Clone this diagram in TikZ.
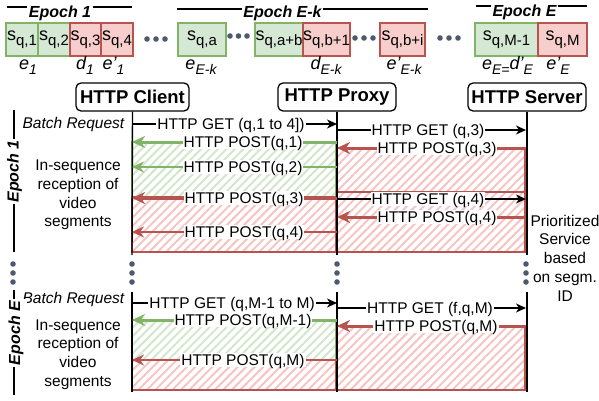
\documentclass[tikz,border=0pt]{standalone}
\usepackage{fontspec}
\setmainfont{Liberation Sans}
\usetikzlibrary{arrows.meta,patterns.meta}
\definecolor{gfill}{HTML}{D5E8D4}
\definecolor{gline}{HTML}{82B366}
\definecolor{rfill}{HTML}{F8CECC}
\definecolor{rline}{HTML}{B85450}
\definecolor{ghatch}{HTML}{D2E7CB}
\definecolor{rhatch}{HTML}{F6C4C2}
\definecolor{dotc}{HTML}{4D5A6E}
\newcommand\sg[1]{{\fontsize{18}{18}\selectfont s}\raisebox{-5pt}{\fontsize{15}{15}\selectfont #1}}
\newcommand\lb[2]{{\fontsize{18}{18}\selectfont\itshape #1}\raisebox{-5pt}{\fontsize{14}{14}\selectfont\itshape #2}}
\newcommand\pr{{\char"0027}}
\newcommand\msgline[7]{%
  \coordinate (#1s) at (#2,#4);
  \coordinate (#1e) at (#3,#4);
  \draw[#5] (#1s) -- (#1e);
  \node[lab] (#1l) at (#6,#4) {#7};
}
\begin{document}
\begin{tikzpicture}[x=1pt,y=-1pt,
  every node/.style={font=\fontsize{15.5}{18.7}\selectfont, inner sep=0pt},
  lab/.style={fill=white, inner sep=1pt, text height=11.2pt, text depth=0.5pt},
  segg/.style={draw=gline, fill=gfill, line width=1.3pt, minimum height=33pt, inner sep=0pt},
  segr/.style={draw=rline, fill=rfill, line width=1.3pt, minimum height=33pt, inner sep=0pt},
  eplab/.style={font=\fontsize{16}{16}\selectfont\bfseries\itshape, fill=white, inner sep=1.5pt},
  epline/.style={line width=1.3pt},
  actor/.style={draw, line width=1.3pt, rounded corners=5pt, minimum width=#1, minimum height=28pt,
     font=\fontsize{18.5}{18.5}\selectfont\bfseries},
  life/.style={line width=1.4pt},
  ghat/.style={pattern={Lines[angle=45,distance=6pt,line width=2pt]}, pattern color=ghatch, draw=gline, line width=1.3pt},
  rhat/.style={pattern={Lines[angle=45,distance=6pt,line width=2pt]}, pattern color=rhatch, draw=rline, line width=1.8pt},
  getarr/.style={line width=1.3pt, -{Stealth[length=10pt,width=9pt,inset=3pt]}},
  gthick/.style={draw=gline, line width=3pt, -{Stealth[length=13pt,width=12pt,inset=4pt]}},
  gthin/.style={draw=gline, line width=1.8pt, -{Stealth[length=12pt,width=11pt,inset=4pt]}},
  rthick/.style={draw=rline, line width=3pt, -{Stealth[length=13pt,width=12pt,inset=4pt]}},
  rthin/.style={draw=rline, line width=2pt, -{Stealth[length=12pt,width=11pt,inset=4pt]}},
  txt/.style={align=center},
  dot/.style={fill=dotc}
]
\useasboundingbox (0,0) rectangle (599,401);

% ---- top strip: epochs
\draw[epline] (7,7) -- (132,7);
\node[eplab] (ep1) at (60,13) {Epoch 1};
\draw[epline] (177,9) -- (428,9);
\node[eplab] (epk) at (282.5,13) {Epoch E-k};
\draw[epline] (476,6) -- (587,6);
\node[eplab] (epE) at (524.5,12.5) {Epoch E};

% segments
\node[segg, minimum width=32pt] (s1) at (22,39.5) {\sg{q,1}};
\node[segg, minimum width=32pt] (s2) at (54,39.5) {\sg{q,2}};
\node[segr, minimum width=31pt] (s3) at (85.5,39.5) {\sg{q,3}};
\node[segr, minimum width=32pt] (s4) at (117,39.5) {\sg{q,4}};
\node[segg, minimum width=48pt] (sa) at (202,39.5) {\sg{q,a}};
\node[segg, minimum width=48pt] (sab) at (279,39.5) {\sg{q,a+b}};
\node[segr, minimum width=47pt] (sb1) at (326.5,39.5) {\sg{q,b+1}};
\node[segr, minimum width=45pt] (sbi) at (402.5,39.5) {\sg{q,b+i}};
\node[segg, minimum width=63pt] (sM1) at (506.5,39.5) {\sg{q,M-1}};
\node[segr, minimum width=49pt] (sM) at (562.5,39.5) {\sg{q,M}};

% horizontal dots
\foreach \x in {147,156,165} \fill[dot] (\x,39) circle (2.8pt);
\foreach \x in {230,238.5,247} \fill[dot] (\x,36) circle (2.8pt);
\foreach \x in {355,364,373} \fill[dot] (\x,38) circle (2.8pt);
\foreach \x in {440,449,458} \fill[dot] (\x,38) circle (2.8pt);

% labels under segments
\node[anchor=base] (l1) at (28,70) {\lb{e}{1}};
\node[anchor=base] (l2) at (85,70) {\lb{d}{1}};
\node[anchor=base] (l3) at (113.5,70) {\lb{e\pr}{1}};
\node[anchor=base] (l4) at (201,70) {\lb{e}{E-k}};
\node[anchor=base] (l5) at (326,70) {\lb{d}{E-k}};
\node[anchor=base] (l6) at (404,70) {\lb{e\pr}{E-k}};
\node[anchor=base] (l7) at (507.5,70) {\lb{e}{E=}\lb{d\pr}{E}};
\node[anchor=base] (l8) at (558,70) {\lb{e\pr}{E}};

% actors
\node[actor=113pt] (client) at (132.5,97) {HTTP Client};
\node[actor=118pt] (proxy) at (337,97) {HTTP Proxy};
\node[actor=118pt] (server) at (527,97) {HTTP Server};

% ---- hatched regions
\draw[ghat] (132,142) rectangle (336,197);
\draw[rhat] (132,197) rectangle (336,252);
\draw[rhat] (337,148) rectangle (525,252);
\draw[rline, line width=1.8pt] (337,192) -- (525,192);
\draw[ghat] (132,320) rectangle (336,360);
\draw[rhat] (132,360) rectangle (336,390);
\draw[rhat] (337,326) rectangle (525,390);

% ---- lifelines
\coordinate (ce1) at (132,255); \coordinate (pe1) at (337,255); \coordinate (se1) at (527,255);
\coordinate (cs2) at (132,292); \coordinate (ps2) at (337,292); \coordinate (ss2) at (527,292);
\coordinate (ce2) at (132,392); \coordinate (pe2) at (337,392); \coordinate (se2) at (527,392);
\draw[life] (client.south) -- (ce1);
\draw[life] (proxy.south) -- (pe1);
\draw[life] (server.south) -- (se1);
\draw[life] (cs2) -- (ce2);
\draw[life] (ps2) -- (pe2);
\draw[life] (ss2) -- (se2);

% vertical dots
\foreach \x in {13,132,337,526} \foreach \y in {264,273,282} \fill[dot] (\x,\y) circle (2.8pt);

% ---- epoch 1 messages
\msgline{a}{132}{337}{124}{getarr}{231}{HTTP GET (q,1 to 4])}
\msgline{b}{337}{526}{130}{getarr}{428}{HTTP GET (q,3)}
\msgline{c}{524}{337}{148}{rthick}{437}{HTTP POST(q,3)}
\msgline{d}{337}{132}{142}{gthick}{243}{HTTP POST(q,1)}
\msgline{e}{337}{132}{167}{gthin}{243}{HTTP POST(q,2)}
\msgline{f}{337}{132}{198}{rthick}{244}{HTTP POST(q,3)}
\msgline{g}{337}{526}{199}{getarr}{428}{HTTP GET (q,4)}
\msgline{h}{524}{337}{217}{rthick}{437}{HTTP POST(q,4)}
\msgline{i}{337}{132}{232}{rthin}{244}{HTTP POST(q,4)}

% ---- epoch E messages
\msgline{j}{132}{337}{303}{getarr}{232}{HTTP GET (q,M-1 to M)}
\msgline{k}{337}{526}{308}{getarr}{430}{HTTP GET (f,q,M)}
\msgline{m}{524}{337}{326}{rthick}{436}{HTTP POST(q,M)}
\msgline{n}{337}{132}{320}{gthick}{243}{HTTP POST(q,M-1)}
\msgline{o}{337}{132}{360}{rthin}{243}{HTTP POST(q,M)}

% ---- side texts
\node[anchor=east, font=\fontsize{15.5}{18.7}\selectfont\itshape] (br1) at (124.5,124) {Batch Request};
\node[anchor=east, font=\fontsize{15.5}{18.7}\selectfont\itshape] (br2) at (124.5,299) {Batch Request};
\node[txt] (ins1) at (78,195) {In-sequence\\reception of\\video\\segments};
\node[txt] (ins2) at (78,354.5) {In-sequence\\reception of\\video\\segments};
\node[txt] (prio) at (565,258) {Prioritized\\Service\\based\\on segm.\\ID};

% vertical epoch labels
\draw[epline] (14,110) -- (14,252);
\node[eplab, rotate=90] (vep1) at (14.5,171.5) {Epoch 1};
\draw[epline] (14,290) -- (14,395);
\node[eplab, rotate=90, inner xsep=1.5pt, inner ysep=4pt] (vepE) at (16,333) {Epoch E};
\end{tikzpicture}
\end{document}
